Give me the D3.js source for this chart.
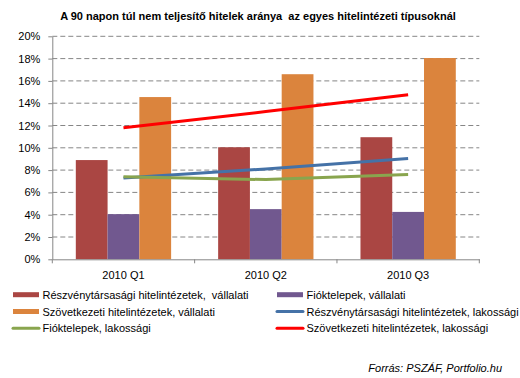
<!doctype html>
<html>
<head>
<meta charset="utf-8">
<script src="https://cdnjs.cloudflare.com/ajax/libs/d3/7.8.5/d3.min.js"></script>
<style>
  body { margin: 0; background: #fff; font-family: Arial, "Liberation Sans", sans-serif; }
  svg text { fill: #000; white-space: pre; }
</style>
</head>
<body>
<div id="chart"></div>
<script>
  // data
  var quarters = ['2010 Q1', '2010 Q2', '2010 Q3']
  var barSeries = ['Részvénytársasági hitelintézetek,  vállalati', 'Fióktelepek, vállalati', 'Szövetkezeti hitelintézetek, vállalati']
  var rtVallalati = [8.9, 10.05, 10.95]
  var fiokVallalati = [4.05, 4.5, 4.25]
  var szovVallalati = [14.55, 16.6, 18.05]
  var lineSeries = ['Részvénytársasági hitelintézetek, lakossági', 'Fióktelepek, lakossági', 'Szövetkezeti hitelintézetek, lakossági']
  var rtLakossagi = [7.3, 8.1, 9.05]
  var fiokLakossagi = [7.4, 7.15, 7.6]
  var szovLakossagi = [11.8, 13.25, 14.75]
  var yTicks = [0, 2, 4, 6, 8, 10, 12, 14, 16, 18, 20]

  var barColors = ['#AA4643', '#71588F', '#DB843D']
  var lineColors = ['#4572A7', '#89A54E', '#FF0000']

  var W = 520, H = 378
  var margin = { top: 36.3, left: 52.3, right: 40.7, bottom: 118.7 }
  var width = W - margin.left - margin.right
  var height = H - margin.top - margin.bottom

  var svg = d3.select('#chart').append('svg')
    .attr('width', W).attr('height', H)

  svg.append('text')
    .attr('x', 258).attr('y', 20)
    .attr('text-anchor', 'middle')
    .attr('font-size', 11).attr('font-weight', 'bold')
    .text('A 90 napon túl nem teljesítő hitelek aránya  az egyes hitelintézeti típusoknál')

  var g = svg.append('g').attr('transform', `translate(${margin.left},${margin.top})`)

  var x = d3.scaleBand().domain(quarters).range([0, width]).paddingInner(0).paddingOuter(0)
  var xInner = d3.scaleBand().domain(d3.range(3)).range([0, x.bandwidth()]).paddingOuter(0.74).paddingInner(0)
  var y = d3.scaleLinear().domain([0, 20]).range([height, 0])

  // gridlines
  g.append('g').selectAll('line')
    .data(yTicks.filter(d => d > 0))
    .enter().append('line')
    .attr('x1', 0).attr('x2', width)
    .attr('y1', d => y(d)).attr('y2', d => y(d))
    .attr('stroke', '#868686').attr('stroke-dasharray', '5,3')

  // bars
  var barData = [rtVallalati, fiokVallalati, szovVallalati]
  barData.forEach((vals, s) => {
    g.append('g').selectAll('rect')
      .data(vals)
      .enter().append('rect')
      .attr('x', (d, i) => x(quarters[i]) + xInner(s))
      .attr('width', xInner.bandwidth())
      .attr('y', d => y(d))
      .attr('height', d => height - y(d))
      .attr('fill', barColors[s])
  })

  // lines
  var line = d3.line()
    .x((d, i) => x(quarters[i]) + x.bandwidth() / 2)
    .y(d => y(d))
  var lineData = [rtLakossagi, fiokLakossagi, szovLakossagi]
  lineData.forEach((vals, s) => {
    g.append('path')
      .attr('d', line(vals))
      .attr('fill', 'none')
      .attr('stroke', lineColors[s])
      .attr('stroke-width', 3)
  })

  // axes
  var yAxis = g.append('g')
    .call(d3.axisLeft(y).tickValues(yTicks).tickFormat(d => d + '%').tickSize(4).tickSizeOuter(0).tickPadding(8))
  var xAxis = g.append('g')
    .attr('transform', `translate(0,${height})`)
    .call(d3.axisBottom(x).tickSize(0).tickPadding(12))
  xAxis.selectAll('.tick').append('line')
    .attr('x1', -x.bandwidth() / 2).attr('x2', -x.bandwidth() / 2).attr('y2', 4)
  xAxis.append('line')
    .attr('x1', width).attr('x2', width).attr('y2', 4)
  ;[yAxis, xAxis].forEach(a => {
    a.selectAll('path, line').attr('stroke', '#868686')
    a.selectAll('text').attr('font-size', 11).attr('font-family', 'Arial, "Liberation Sans", sans-serif').attr('fill', '#000')
  })

  // legend
  var legendItems = [
    { name: barSeries[0], color: barColors[0], type: 'bar' },
    { name: barSeries[1], color: barColors[1], type: 'bar' },
    { name: barSeries[2], color: barColors[2], type: 'bar' },
    { name: lineSeries[0], color: lineColors[0], type: 'line' },
    { name: lineSeries[1], color: lineColors[1], type: 'line' },
    { name: lineSeries[2], color: lineColors[2], type: 'line' }
  ]
  var legend = svg.append('g')
  legendItems.forEach((d, i) => {
    var col = i % 2, row = Math.floor(i / 2)
    var lx = col === 0 ? 13 : 277
    var ly = 294.7 + row * 16.8
    var item = legend.append('g').attr('transform', `translate(${lx},${ly})`)
    if (d.type === 'bar') {
      item.append('rect').attr('x', 0).attr('y', -2.5).attr('width', 26).attr('height', 5).attr('fill', d.color)
    } else {
      item.append('line').attr('x1', 0).attr('x2', 26).attr('y1', 0).attr('y2', 0)
        .attr('stroke', d.color).attr('stroke-width', 3).attr('stroke-linecap', 'round')
    }
    item.append('text').attr('x', 29.5).attr('y', 4).attr('font-size', 11).text(d.name)
  })

  svg.append('text')
    .attr('x', 502).attr('y', 372)
    .attr('text-anchor', 'end')
    .attr('font-size', 11).attr('font-style', 'italic')
    .text('Forrás: PSZÁF, Portfolio.hu')
</script>
</body>
</html>
